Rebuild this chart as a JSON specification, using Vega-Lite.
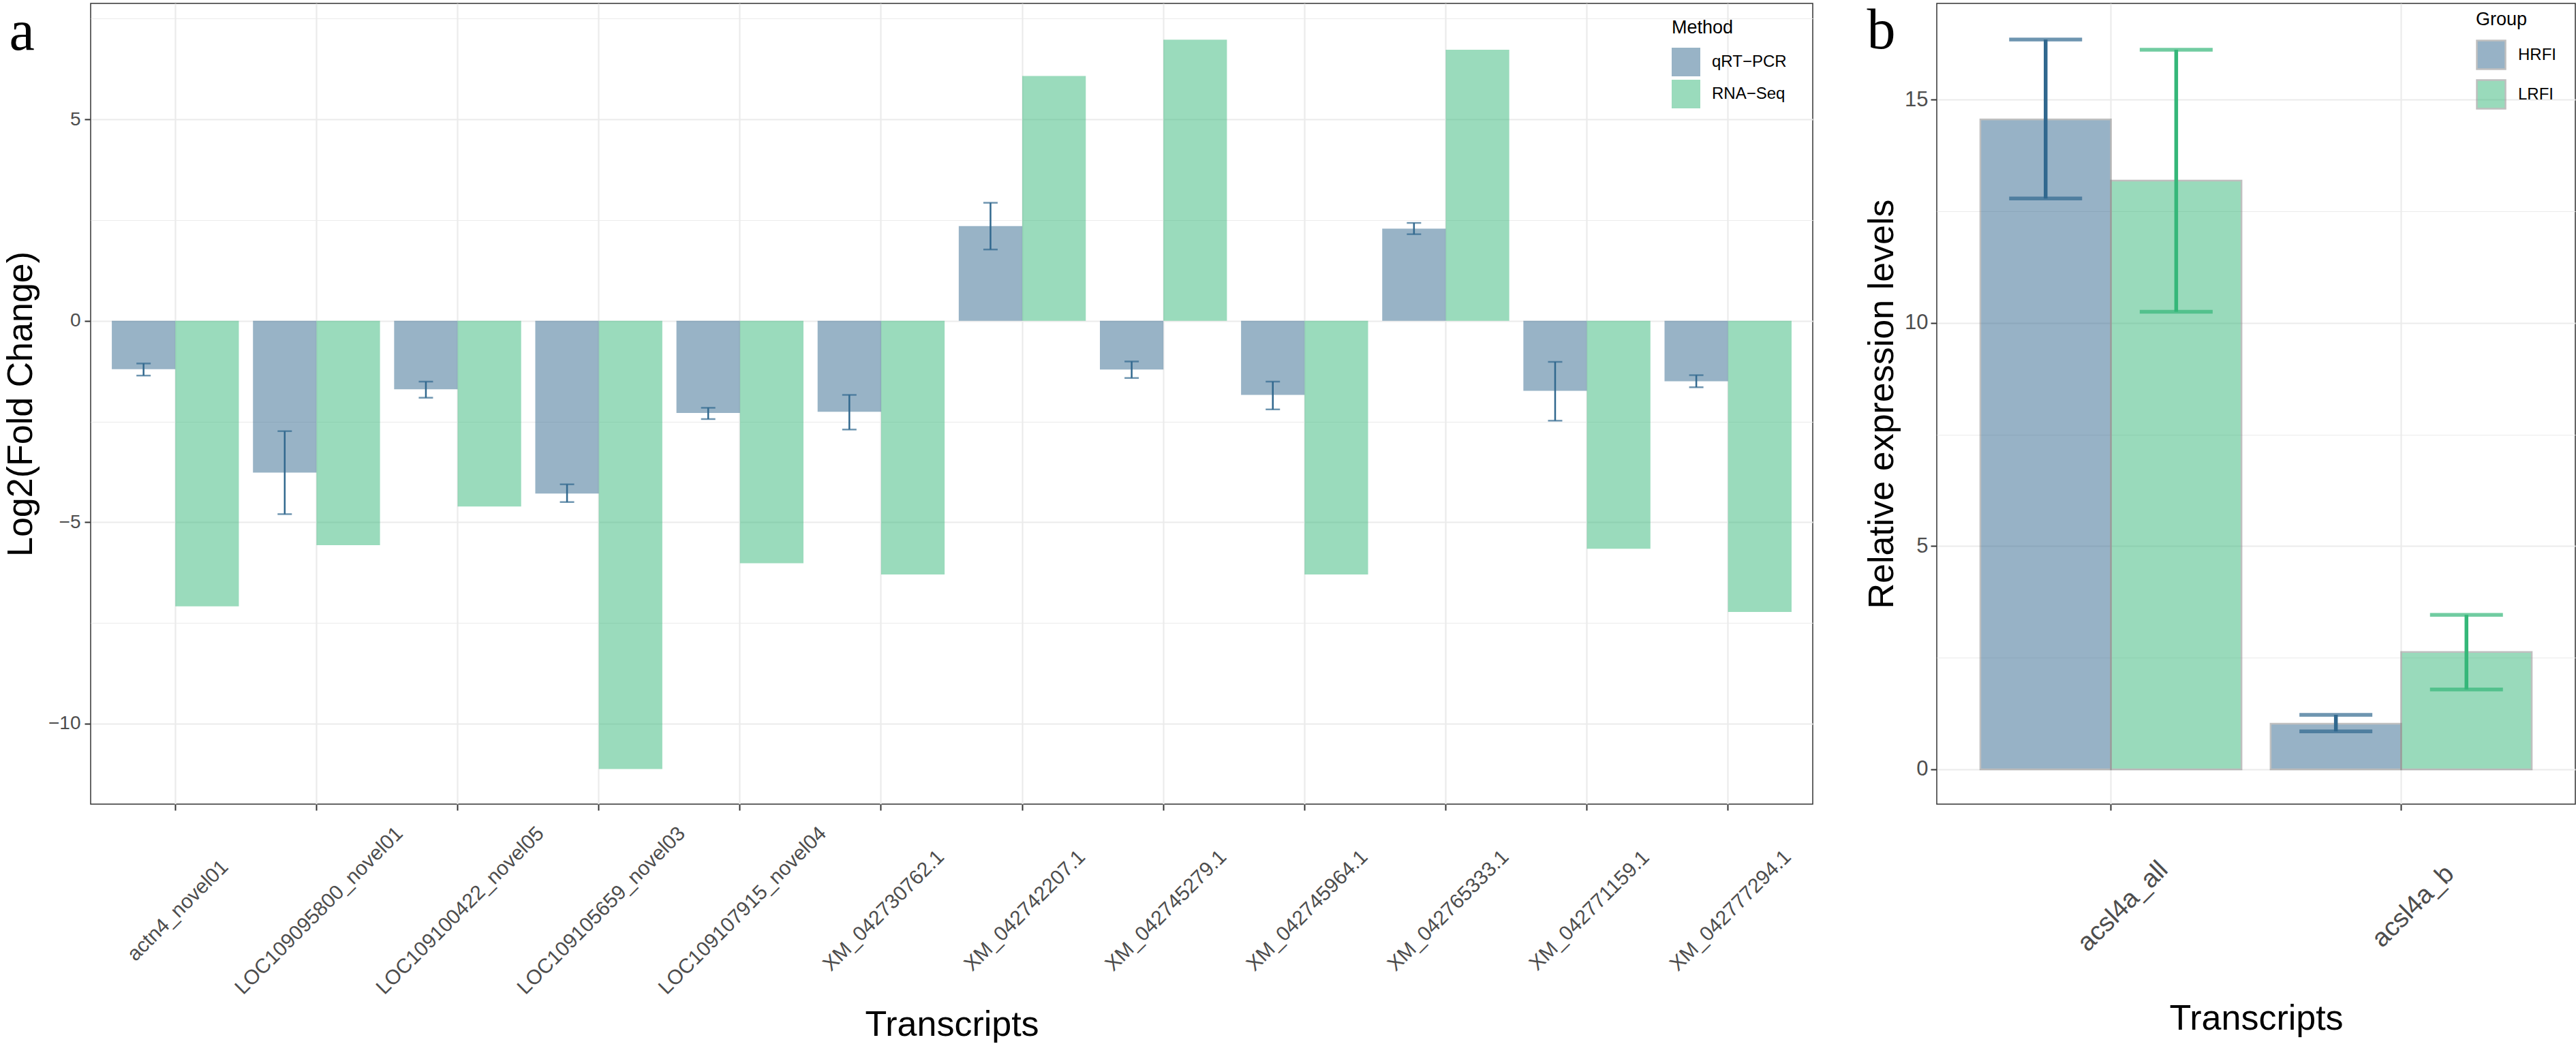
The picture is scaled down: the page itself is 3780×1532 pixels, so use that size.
{
  "$schema": "https://vega.github.io/schema/vega-lite/v6.json",
  "background": "white",
  "padding": {"left": 3, "top": 2, "right": 0, "bottom": 0},
  "autosize": {"type": "pad"},
  "bounds": "flush",
  "spacing": 182,
  "config": {
    "font": "Liberation Sans",
    "view": {"stroke": "#333333", "strokeWidth": 1.5},
    "axis": {
      "labelColor": "#4D4D4D",
      "titleColor": "#000000",
      "titleFontWeight": "normal",
      "tickColor": "#333333",
      "tickWidth": 2,
      "tickSize": 9,
      "gridColor": "#EBEBEB",
      "domain": false,
      "labelFont": "Liberation Sans",
      "titleFont": "Liberation Sans"
    },
    "legend": {"titleFontWeight": "normal", "titleColor": "#000000", "labelColor": "#000000", "labelFont": "Liberation Sans", "titleFont": "Liberation Sans"}
  },
  "datasets": {
    "fc": [
      {"Transcript": "actn4_novel01", "Method": "qRT-PCR", "value": -1.20, "lo": -1.36, "hi": -1.06},
      {"Transcript": "actn4_novel01", "Method": "RNA-Seq", "value": -7.09},
      {"Transcript": "LOC109095800_novel01", "Method": "qRT-PCR", "value": -3.77, "lo": -4.80, "hi": -2.74},
      {"Transcript": "LOC109095800_novel01", "Method": "RNA-Seq", "value": -5.57},
      {"Transcript": "LOC109100422_novel05", "Method": "qRT-PCR", "value": -1.70, "lo": -1.91, "hi": -1.51},
      {"Transcript": "LOC109100422_novel05", "Method": "RNA-Seq", "value": -4.61},
      {"Transcript": "LOC109105659_novel03", "Method": "qRT-PCR", "value": -4.29, "lo": -4.50, "hi": -4.06},
      {"Transcript": "LOC109105659_novel03", "Method": "RNA-Seq", "value": -11.13},
      {"Transcript": "LOC109107915_novel04", "Method": "qRT-PCR", "value": -2.29, "lo": -2.44, "hi": -2.16},
      {"Transcript": "LOC109107915_novel04", "Method": "RNA-Seq", "value": -6.02},
      {"Transcript": "XM_042730762.1", "Method": "qRT-PCR", "value": -2.26, "lo": -2.70, "hi": -1.84},
      {"Transcript": "XM_042730762.1", "Method": "RNA-Seq", "value": -6.30},
      {"Transcript": "XM_042742207.1", "Method": "qRT-PCR", "value": 2.35, "lo": 1.77, "hi": 2.93},
      {"Transcript": "XM_042742207.1", "Method": "RNA-Seq", "value": 6.08},
      {"Transcript": "XM_042745279.1", "Method": "qRT-PCR", "value": -1.21, "lo": -1.42, "hi": -1.01},
      {"Transcript": "XM_042745279.1", "Method": "RNA-Seq", "value": 6.98},
      {"Transcript": "XM_042745964.1", "Method": "qRT-PCR", "value": -1.84, "lo": -2.20, "hi": -1.51},
      {"Transcript": "XM_042745964.1", "Method": "RNA-Seq", "value": -6.30},
      {"Transcript": "XM_042765333.1", "Method": "qRT-PCR", "value": 2.29, "lo": 2.15, "hi": 2.43},
      {"Transcript": "XM_042765333.1", "Method": "RNA-Seq", "value": 6.73},
      {"Transcript": "XM_042771159.1", "Method": "qRT-PCR", "value": -1.74, "lo": -2.48, "hi": -1.02},
      {"Transcript": "XM_042771159.1", "Method": "RNA-Seq", "value": -5.66},
      {"Transcript": "XM_042777294.1", "Method": "qRT-PCR", "value": -1.50, "lo": -1.65, "hi": -1.35},
      {"Transcript": "XM_042777294.1", "Method": "RNA-Seq", "value": -7.23}
    ],
    "rel": [
      {"Transcript": "acsl4a_all", "Group": "HRFI", "value": 14.56, "lo": 12.79, "hi": 16.35},
      {"Transcript": "acsl4a_all", "Group": "LRFI", "value": 13.19, "lo": 10.25, "hi": 16.12},
      {"Transcript": "acsl4a_b", "Group": "HRFI", "value": 1.02, "lo": 0.85, "hi": 1.22},
      {"Transcript": "acsl4a_b", "Group": "LRFI", "value": 2.63, "lo": 1.79, "hi": 3.46}
    ]
  },
  "hconcat": [
    {
      "width": 2527,
      "height": 1175,
      "data": {"name": "fc"},
      "resolve": {"axis": {"x": "independent"}},
      "layer": [
        {
          "encoding": {
            "x": {
              "field": "Transcript", "type": "nominal", "sort": null,
              "scale": {"paddingInner": 0.1, "paddingOuter": 0.15},
              "axis": {
                "title": "Transcripts", "titleFontSize": 52, "titleBaseline": "alphabetic", "titleY": 339,
                "labelAngle": -45, "labelAlign": "center", "labelBaseline": "middle", "labelPadding": 147,
                "labelOffset": 4, "labelFontSize": 30, "labelLimit": 0, "bandPosition": 0.5, "grid": true, "gridWidth": 2.2,
                "labelOverlap": false, "labelBound": false, "labelFlush": false
              }
            },
            "y": {
              "field": "value", "type": "quantitative", "stack": null,
              "scale": {"domain": [-12.0, 7.88], "nice": false, "zero": false},
              "axis": {
                "title": "Log2(Fold Change)", "titleFontSize": 52, "titleBaseline": "alphabetic", "titleX": -87,
                "values": [-10, -7.5, -5, -2.5, 0, 2.5, 5, 7.5],
                "labelExpr": "datum.value % 5 === 0 ? format(datum.value, 'd') : ''",
                "labelFontSize": 28, "labelPadding": 6, "grid": true,
                "gridWidth": {"condition": {"test": "datum.value % 5 === 0", "value": 2.2}, "value": 1.2},
                "tickOpacity": {"condition": {"test": "datum.value % 5 === 0", "value": 1}, "value": 0}
              }
            },
            "color": {
              "field": "Method", "type": "nominal",
              "scale": {"domain": ["qRT-PCR", "RNA-Seq"], "range": ["#31688E", "#35B779"]},
              "legend": {
                "title": "Method", "orient": "none", "legendX": 2320, "legendY": 23,
                "titleFontSize": 27, "labelFontSize": 24, "titlePadding": 15,
                "symbolType": "square", "symbolSize": 1764, "symbolStrokeWidth": 0, "symbolOpacity": 0.5,
                "rowPadding": 5, "labelOffset": 17,
                "labelExpr": "replace(datum.label, '-', '−')"
              }
            }
          },
          "layer": [
            {
              "transform": [{"filter": "datum.Method === 'qRT-PCR'"}],
              "mark": {"type": "bar", "opacity": 0.5, "width": 93.2, "xOffset": -46.6}
            },
            {
              "transform": [{"filter": "datum.Method === 'RNA-Seq'"}],
              "mark": {"type": "bar", "opacity": 0.5, "width": 93.2, "xOffset": 46.6}
            },
            {
              "transform": [{"filter": "isValid(datum.lo)"}],
              "mark": {"type": "tick", "thickness": 2.5, "xOffset": -46.6},
              "encoding": {
                "y": {"field": "lo", "type": "quantitative"},
                "size": {"value": 21},
                "color": {"value": "#31688E"}
              }
            },
            {
              "transform": [{"filter": "isValid(datum.hi)"}],
              "mark": {"type": "tick", "thickness": 2.5, "xOffset": -46.6},
              "encoding": {
                "y": {"field": "hi", "type": "quantitative"},
                "size": {"value": 21},
                "color": {"value": "#31688E"}
              }
            }
          ]
        },
        {
          "transform": [{"filter": "isValid(datum.lo)"}],
          "mark": {"type": "rule", "color": "#31688E", "strokeWidth": 2.5, "xOffset": -46.6},
          "encoding": {
            "x": {
              "field": "Transcript", "type": "nominal", "sort": null,
              "axis": {
                "orient": "top", "title": "a", "titleFont": "Liberation Serif", "titleFontSize": 84,
                "titleColor": "#000000", "titleAngle": 0, "titleAlign": "left", "titleBaseline": "alphabetic",
                "titleX": -120, "titleY": 67, "labels": false, "ticks": false, "domain": false, "grid": false
              }
            },
            "y": {"field": "lo", "type": "quantitative"},
            "y2": {"field": "hi"}
          }
        }
      ]
    },
    {
      "width": 937,
      "height": 1175,
      "data": {"name": "rel"},
      "resolve": {"axis": {"x": "independent"}},
      "layer": [
        {
          "encoding": {
            "x": {
              "field": "Transcript", "type": "nominal", "sort": null,
              "scale": {"paddingInner": 0.1, "paddingOuter": 0.15},
              "axis": {
                "title": "Transcripts", "titleFontSize": 52, "titleBaseline": "alphabetic", "titleY": 330,
                "labelAngle": -45, "labelAlign": "center", "labelBaseline": "middle", "labelPadding": 141,
                "labelOffset": 18, "labelFontSize": 38, "labelLimit": 0, "bandPosition": 0.5, "grid": true, "gridWidth": 2.2,
                "labelOverlap": false, "labelBound": false, "labelFlush": false
              }
            },
            "y": {
              "field": "value", "type": "quantitative", "stack": null,
              "scale": {"domain": [-0.78, 17.16], "nice": false, "zero": false},
              "axis": {
                "title": "Relative expression levels", "titleFontSize": 52, "titleBaseline": "alphabetic", "titleX": -65,
                "values": [0, 2.5, 5, 7.5, 10, 12.5, 15],
                "labelExpr": "datum.value % 5 === 0 ? format(datum.value, 'd') : ''",
                "labelFontSize": 31, "labelPadding": 4, "grid": true,
                "gridWidth": {"condition": {"test": "datum.value % 5 === 0", "value": 2.2}, "value": 1.2},
                "tickOpacity": {"condition": {"test": "datum.value % 5 === 0", "value": 1}, "value": 0}
              }
            },
            "color": {
              "field": "Group", "type": "nominal",
              "scale": {"domain": ["HRFI", "LRFI"], "range": ["#31688E", "#35B779"]},
              "legend": {
                "title": "Group", "orient": "none", "legendX": 791, "legendY": 11,
                "titleFontSize": 27, "labelFontSize": 24, "titlePadding": 15,
                "symbolType": "square", "symbolSize": 1764, "symbolStrokeWidth": 2.5, "symbolStrokeColor": "#808080", "symbolOpacity": 0.5,
                "rowPadding": 5, "labelOffset": 17
              }
            }
          },
          "layer": [
            {
              "transform": [{"filter": "datum.Group === 'HRFI'"}],
              "mark": {"type": "bar", "opacity": 0.5, "stroke": "#808080", "strokeWidth": 2.5, "width": 191.6, "xOffset": -95.8}
            },
            {
              "transform": [{"filter": "datum.Group === 'LRFI'"}],
              "mark": {"type": "bar", "opacity": 0.5, "stroke": "#808080", "strokeWidth": 2.5, "width": 191.6, "xOffset": 95.8}
            },
            {
              "transform": [{"filter": "datum.Group === 'HRFI'"}],
              "mark": {"type": "tick", "thickness": 5.5, "xOffset": -95.8},
              "encoding": {"y": {"field": "lo", "type": "quantitative"}, "size": {"value": 107}, "color": {"value": "#31688E"}}
            },
            {
              "transform": [{"filter": "datum.Group === 'HRFI'"}],
              "mark": {"type": "tick", "thickness": 5.5, "xOffset": -95.8},
              "encoding": {"y": {"field": "hi", "type": "quantitative"}, "size": {"value": 107}, "color": {"value": "#31688E"}}
            },
            {
              "transform": [{"filter": "datum.Group === 'LRFI'"}],
              "mark": {"type": "rule", "strokeWidth": 5.5, "xOffset": 95.8},
              "encoding": {"y": {"field": "lo", "type": "quantitative"}, "y2": {"field": "hi"}, "color": {"value": "#35B779"}}
            },
            {
              "transform": [{"filter": "datum.Group === 'LRFI'"}],
              "mark": {"type": "tick", "thickness": 5.5, "xOffset": 95.8},
              "encoding": {"y": {"field": "lo", "type": "quantitative"}, "size": {"value": 107}, "color": {"value": "#35B779"}}
            },
            {
              "transform": [{"filter": "datum.Group === 'LRFI'"}],
              "mark": {"type": "tick", "thickness": 5.5, "xOffset": 95.8},
              "encoding": {"y": {"field": "hi", "type": "quantitative"}, "size": {"value": 107}, "color": {"value": "#35B779"}}
            }
          ]
        },
        {
          "transform": [{"filter": "datum.Group === 'HRFI'"}],
          "mark": {"type": "rule", "color": "#31688E", "strokeWidth": 5.5, "xOffset": -95.8},
          "encoding": {
            "x": {
              "field": "Transcript", "type": "nominal", "sort": null,
              "axis": {
                "orient": "top", "title": "b", "titleFont": "Liberation Serif", "titleFontSize": 84,
                "titleColor": "#000000", "titleAngle": 0, "titleAlign": "left", "titleBaseline": "alphabetic",
                "titleX": -103, "titleY": 65, "labels": false, "ticks": false, "domain": false, "grid": false
              }
            },
            "y": {"field": "lo", "type": "quantitative"},
            "y2": {"field": "hi"}
          }
        }
      ]
    }
  ],
  "resolve": {"scale": {"color": "independent"}}
}
